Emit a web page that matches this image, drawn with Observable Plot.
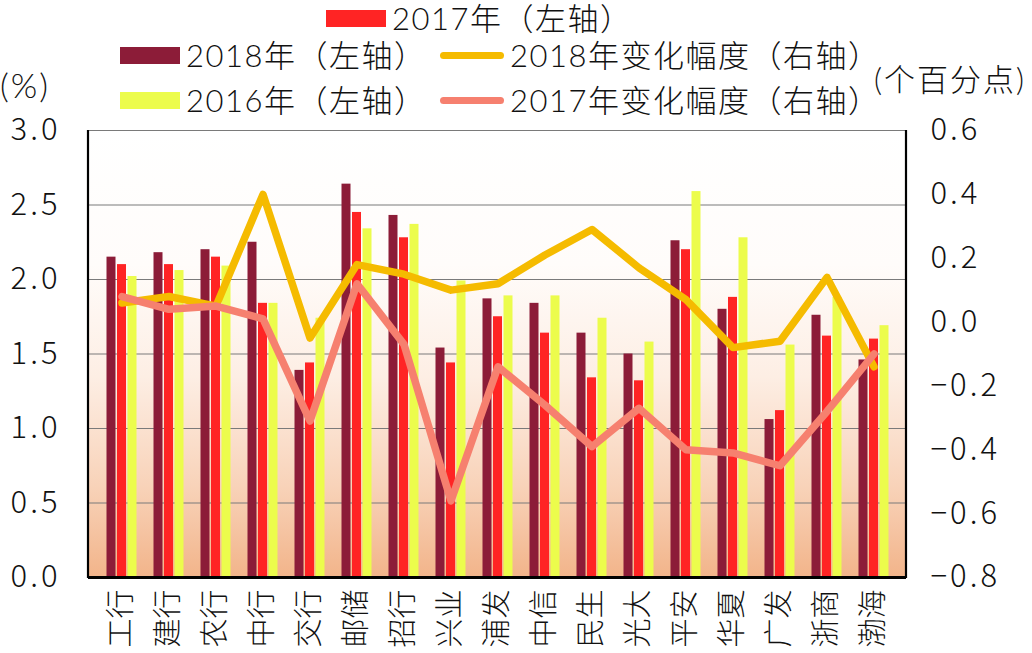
<!DOCTYPE html>
<html><head><meta charset="utf-8">
<script src="https://cdn.jsdelivr.net/npm/d3@7"></script>
<script src="https://cdn.jsdelivr.net/npm/@observablehq/plot@0.6"></script>
<style>
body{margin:0;background:#fff;font-family:"Noto Sans CJK SC","Noto Sans",sans-serif;}
#wrap{width:1032px;height:653px;position:relative;overflow:hidden}
#head{position:absolute;left:0;top:0;width:1032px;height:120px;font-family:"Lato","Noto Sans CJK SC",sans-serif;font-size:31px;color:#111;font-weight:300;z-index:2}
.item{position:absolute;display:flex;align-items:center;white-space:nowrap;line-height:37px;height:37px;letter-spacing:1.5px}
.unit{letter-spacing:2px}
.sw{width:60px;height:17px;margin-right:6px}
.ln{width:64px;height:7px;border-radius:4px;margin-right:6px}
g[aria-label="y-axis tick label"] text{letter-spacing:3px}
</style></head><body>
<div id="wrap"><div id="head"></div><div id="chart"></div></div>
<script>
const banks = ["工行","建行","农行","中行","交行","邮储","招行","兴业","浦发","中信","民生","光大","平安","华夏","广发","浙商","渤海"];
const nim2018 = [2.15,2.18,2.20,2.25,1.39,2.64,2.43,1.54,1.87,1.84,1.64,1.50,2.26,1.80,1.06,1.76,1.46];
const nim2017 = [2.10,2.10,2.15,1.84,1.44,2.45,2.28,1.44,1.75,1.64,1.34,1.32,2.20,1.88,1.12,1.62,1.60];
const nim2016 = [2.02,2.06,2.09,1.84,1.74,2.34,2.37,1.99,1.89,1.89,1.74,1.58,2.59,2.28,1.56,1.88,1.69];
const chg2018 = [0.06,0.08,0.05,0.40,-0.05,0.18,0.15,0.10,0.12,0.21,0.29,0.17,0.07,-0.08,-0.06,0.14,-0.14];
const chg2017 = [0.08,0.04,0.05,0.01,-0.31,0.12,-0.07,-0.56,-0.14,-0.26,-0.39,-0.27,-0.40,-0.41,-0.45,-0.28,-0.10];
const leftTicks = [0,0.5,1,1.5,2,2.5,3];
const rightTicks = [-0.8,-0.6,-0.4,-0.2,0,0.2,0.4,0.6];
const leftDomain = [0,3];
const rightDomain = [-0.8,0.6];

const legendItems = [
  {label:"2017年（左轴）", color:"#ff2424", kind:"bar", left:326, top:0},
  {label:"2018年（左轴）", color:"#8c1c38", kind:"bar", left:120, top:37},
  {label:"2018年变化幅度（右轴）", color:"#f5bb00", kind:"line", left:440, top:37},
  {label:"2016年（左轴）", color:"#ecfc4c", kind:"bar", left:120, top:82},
  {label:"2017年变化幅度（右轴）", color:"#f6806f", kind:"line", left:440, top:82}
];
const units = [{label:"(%)", left:0, top:66, size:34},{label:"(个百分点)", left:874, top:61, size:31}];

const head = d3.select("#head");
for (const it of legendItems) {
  const d = head.append("div").attr("class","item").style("left",it.left+"px").style("top",it.top+"px");
  d.append("div").attr("class", it.kind==="bar" ? "sw" : "ln").style("background", it.color);
  d.append("span").text(it.label);
}
for (const u of units) {
  head.append("div").attr("class","item unit").style("left",u.left+"px").style("top",u.top+"px")
    .style("font-size",u.size+"px").text(u.label);
}

const k = (leftDomain[1]-leftDomain[0])/(rightDomain[1]-rightDomain[0]);
const toL = r => (r - rightDomain[0]) * k + leftDomain[0];
const fromL = v => (v - leftDomain[0]) / k + rightDomain[0];
const rows = banks.map((b,i)=>({bank:b, v18:nim2018[i], v17:nim2017[i], v16:nim2016[i], c18:toL(chg2018[i]), c17:toL(chg2017[i])}));
const fmt = d3.format(".1f");

function gradientDefs() {
  const defs = d3.create("svg:defs");
  const lg = defs.append("linearGradient").attr("id","bg").attr("x1",0).attr("y1",0).attr("x2",0).attr("y2",1);
  [[0,"#ffffff"],[0.3,"#fffcfa"],[0.55,"#fdeee4"],[0.8,"#f8d2b8"],[1,"#f2b48a"]].forEach(([o,c]) =>
    lg.append("stop").attr("offset",o).attr("stop-color",c));
  return defs.node();
}
function sideLines(index, scales, values, dim) {
  const g = d3.create("svg:g").attr("stroke","#000").attr("stroke-width",2.2);
  const y0 = dim.marginTop, y1 = dim.height - dim.marginBottom;
  g.append("line").attr("x1",dim.marginLeft).attr("x2",dim.marginLeft).attr("y1",y0).attr("y2",y1+1);
  g.append("line").attr("x1",dim.width-dim.marginRight).attr("x2",dim.width-dim.marginRight).attr("y1",y0).attr("y2",y1+1);
  return g.node();
}

const chart = Plot.plot({
  width:1032, height:653, marginTop:130, marginBottom:76, marginLeft:88, marginRight:126,
  style:{fontFamily:'"Noto Sans CJK SC","Noto Sans",sans-serif', fontSize:"31px", color:"#111", background:"transparent", fontWeight:300},
  x:{type:"band", domain:banks, paddingInner:0.81, paddingOuter:0.46, label:null},
  y:{domain:leftDomain, label:null},
  marks:[
    gradientDefs,
    Plot.frame({fill:"url(#bg)", stroke:null}),
    Plot.gridY(leftTicks, {stroke:"#7a7a7a", strokeOpacity:1, strokeWidth:1.2}),
    Plot.barY(rows,{x:"bank", y:"v18", fill:"#8c1c38", dx:-10.5}),
    Plot.barY(rows,{x:"bank", y:"v17", fill:"#ff2424"}),
    Plot.barY(rows,{x:"bank", y:"v16", fill:"#ecfc4c", dx:10.5}),
    Plot.line(rows,{x:"bank", y:"c18", stroke:"#f5bb00", strokeWidth:7.5}),
    Plot.line(rows,{x:"bank", y:"c17", stroke:"#f6806f", strokeWidth:7.5}),
    Plot.axisY(leftTicks,{anchor:"left", tickSize:0, tickPadding:28, tickFormat:fmt, label:null}),
    Plot.axisY(rightTicks.map(toL),{anchor:"right", tickSize:0, tickPadding:24, textAnchor:"start",
      tickFormat:d => fmt(Math.round(fromL(d)*10)/10), label:null}),
    Plot.axisX({tickSize:0, tickRotate:-90, tickPadding:12, fontSize:29, label:null}),
    Plot.ruleY([0],{stroke:"#000", strokeWidth:3}),
    sideLines
  ]
});
document.getElementById("chart").appendChild(chart);
</script>
</body></html>
